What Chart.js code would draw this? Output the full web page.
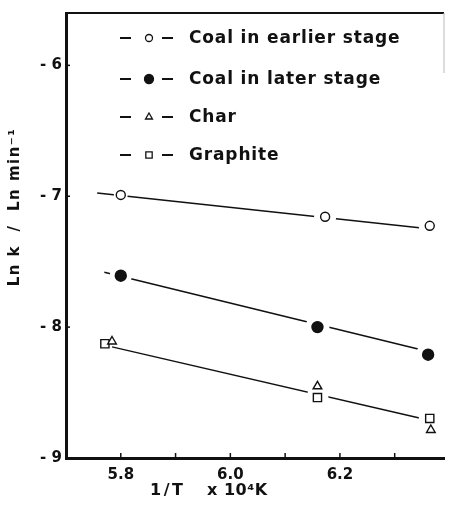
<!DOCTYPE html>
<html>
<head>
<meta charset="utf-8">
<title>Ln k vs 1/T</title>
<script src="https://cdn.jsdelivr.net/npm/chart.js@4.4.1/dist/chart.umd.min.js"></script>
<style>
    html, body { margin: 0; padding: 0; background: #fff; }
    #wrap { width: 456px; height: 509px; }
</style>
</head>
<body>
<div id="wrap"><canvas id="rateChart" width="456" height="509"></canvas></div>
<script>
// ────────────────────────────────────────────────
// Data  (x = 1/T x 10^4 K^-1, y = Ln k)
// ────────────────────────────────────────────────
const SERIES_LABELS = ['Coal in earlier stage', 'Coal in later stage', 'Char', 'Graphite'];

const EARLIER_X  = [5.800, 6.173, 6.364];
const EARLIER_Y  = [-6.990, -7.157, -7.226];
const LATER_X    = [5.800, 6.159, 6.361];
const LATER_Y    = [-7.607, -8.000, -8.211];
const CHAR_X     = [5.784, 6.159, 6.366];
const CHAR_Y     = [-8.110, -8.452, -8.786];
const GRAPHITE_X = [5.771, 6.159, 6.364];
const GRAPHITE_Y = [-8.127, -8.538, -8.698];

// fitted straight lines (end points)
const EARLIER_FIT_X = [5.757, 6.345];
const EARLIER_FIT_Y = [-6.975, -7.241];
const LATER_FIT_X   = [5.770, 6.350];
const LATER_FIT_Y   = [-7.580, -8.175];
const SOLID_FIT_X   = [5.784, 6.345];
const SOLID_FIT_Y   = [-8.151, -8.695];

const X_TICKS       = [5.8, 5.9, 6.0, 6.1, 6.2, 6.3];
const X_TICK_LABELS = ['5.8', '', '6.0', '', '6.2', ''];
const Y_TICKS       = [-9, -8, -7, -6];
const Y_TICK_LABELS = ['- 9', '- 8', '- 7', '- 6'];

const X_TITLE_LEFT  = '1/T';
const X_TITLE_RIGHT = 'x 10⁴K';
const Y_TITLE       = 'Ln k  /  Ln min⁻¹';

// ────────────────────────────────────────────────
// Helpers
// ────────────────────────────────────────────────
const INK  = '#111';
const FONT = '"DejaVu Sans", sans-serif';

function toPoints(xs, ys) {
    return xs.map((x, i) => ({ x, y: ys[i] }));
}

function fitLine(xs, ys) {
    return {
        type: 'line',
        data: toPoints(xs, ys),
        borderColor: INK,
        borderWidth: 1.5,
        pointRadius: 0,
        fill: false,
        order: 3
    };
}

// white disc behind a marker, so the fitted line breaks around it
function halo(xs, ys, radii) {
    return {
        type: 'scatter',
        data: toPoints(xs, ys),
        pointRadius: radii,
        pointBackgroundColor: '#fff',
        pointBorderWidth: 0,
        order: 2
    };
}

function markers(label, xs, ys, style, radius, filled) {
    return {
        type: 'scatter',
        label,
        data: toPoints(xs, ys),
        pointStyle: style,
        pointRadius: radius,
        pointBackgroundColor: filled ? INK : '#fff',
        pointBorderColor: INK,
        pointBorderWidth: 1.4,
        order: 1,
        isSeries: true
    };
}

// ────────────────────────────────────────────────
// Plugins: frame, inward ticks, axis titles, legend
// ────────────────────────────────────────────────
const framePlugin = {
    id: 'frame',
    afterDraw(chart) {
        const { ctx, chartArea: a, scales } = chart;
        ctx.save();
        ctx.strokeStyle = INK;

        // top edge and faint right edge
        ctx.lineWidth = 2;
        ctx.beginPath();
        ctx.moveTo(a.left, a.top);
        ctx.lineTo(a.right, a.top);
        ctx.stroke();
        ctx.strokeStyle = '#bbb';
        ctx.lineWidth = 1;
        ctx.beginPath();
        ctx.moveTo(a.right, a.top);
        ctx.lineTo(a.right, a.top + 60);
        ctx.stroke();

        // short inward tick marks
        ctx.strokeStyle = INK;
        ctx.lineWidth = 1.5;
        scales.x.ticks.forEach(t => {
            const px = scales.x.getPixelForValue(t.value);
            ctx.beginPath();
            ctx.moveTo(px, a.bottom);
            ctx.lineTo(px, a.bottom - 5);
            ctx.stroke();
        });
        scales.y.ticks.forEach(t => {
            const py = scales.y.getPixelForValue(t.value);
            ctx.beginPath();
            ctx.moveTo(a.left, py);
            ctx.lineTo(a.left + 4, py);
            ctx.stroke();
        });
        ctx.restore();
    }
};

const titlesPlugin = {
    id: 'axisTitles',
    afterDraw(chart) {
        const { ctx } = chart;
        ctx.save();
        ctx.fillStyle = INK;
        ctx.font = 'bold 16px ' + FONT;
        ctx.textBaseline = 'middle';
        ctx.textAlign = 'left';
        ctx.letterSpacing = '2.5px';
        ctx.fillText(X_TITLE_LEFT, 150, 491);
        ctx.letterSpacing = '0.5px';
        ctx.fillText(X_TITLE_RIGHT, 207, 491);

        ctx.translate(15, 207);
        ctx.rotate(-Math.PI / 2);
        ctx.textAlign = 'center';
        ctx.font = 'bold 15px ' + FONT;
        ctx.letterSpacing = '1.5px';
        ctx.fillText(Y_TITLE, 0, 0);
        ctx.restore();
    }
};

const legendPlugin = {
    id: 'lineLegend',
    afterDraw(chart) {
        const { ctx } = chart;
        const rows = [38, 79, 117, 155];
        const legendRadius = [3.5, 4.5, 4, 4.5];
        const series = chart.data.datasets.filter(d => d.isSeries);
        ctx.save();
        ctx.font = 'bold 17px ' + FONT;
        ctx.letterSpacing = '0.85px';
        ctx.textBaseline = 'middle';
        ctx.textAlign = 'left';
        series.forEach((ds, i) => {
            const y = rows[i];
            ctx.strokeStyle = INK;
            ctx.lineWidth = 1.8;
            ctx.beginPath();
            ctx.moveTo(120, y); ctx.lineTo(131, y);
            ctx.moveTo(162, y); ctx.lineTo(173, y);
            ctx.stroke();

            ctx.fillStyle = ds.pointBackgroundColor;
            ctx.lineWidth = 1.3;
            Chart.helpers.drawPoint(ctx, {
                pointStyle: ds.pointStyle,
                radius: legendRadius[i],
                rotation: 0,
                borderWidth: 1.3
            }, 149, y);

            ctx.fillStyle = INK;
            ctx.fillText(ds.label, 189, y + 1);
        });
        ctx.restore();
    }
};

// ────────────────────────────────────────────────
// Chart
// ────────────────────────────────────────────────
const tickFont = { family: FONT, size: 15, weight: 'bold' };

new Chart(document.getElementById('rateChart'), {
    data: {
        datasets: [
            fitLine(EARLIER_FIT_X, EARLIER_FIT_Y),
            fitLine(LATER_FIT_X, LATER_FIT_Y),
            fitLine(SOLID_FIT_X, SOLID_FIT_Y),
            halo(EARLIER_X, EARLIER_Y, [7, 11, 11]),
            halo(LATER_X, LATER_Y, [11, 12, 12]),
            halo(CHAR_X, CHAR_Y, [4, 11, 11]),
            halo(GRAPHITE_X, GRAPHITE_Y, [4, 11, 11]),
            markers(SERIES_LABELS[0], EARLIER_X, EARLIER_Y, 'circle', 4.5, false),
            markers(SERIES_LABELS[1], LATER_X, LATER_Y, 'circle', 5.5, true),
            markers(SERIES_LABELS[2], CHAR_X, CHAR_Y, 'triangle', 5, false),
            markers(SERIES_LABELS[3], GRAPHITE_X, GRAPHITE_Y, 'rect', 5.8, false)
        ]
    },
    options: {
        responsive: false,
        animation: false,
        events: [],
        layout: { padding: { top: 12, right: 3, left: 0, bottom: 0 } },
        plugins: {
            legend: { display: false },
            tooltip: { enabled: false }
        },
        scales: {
            x: {
                type: 'linear',
                min: 5.7,
                max: 6.39,
                afterBuildTicks: s => { s.ticks = X_TICKS.map(v => ({ value: v })); },
                afterFit: s => { s.height = 51; },
                grid: { display: false, drawTicks: false },
                border: { width: 3, color: INK },
                ticks: {
                    padding: 8,
                    color: INK,
                    font: tickFont,
                    maxRotation: 0,
                    autoSkip: false,
                    callback: (v, i) => X_TICK_LABELS[i]
                }
            },
            y: {
                type: 'linear',
                min: -9,
                max: -5.6,
                afterBuildTicks: s => { s.ticks = Y_TICKS.map(v => ({ value: v })); },
                afterFit: s => { s.width = 66; },
                grid: { display: false, drawTicks: false },
                border: { width: 3, color: INK },
                ticks: {
                    padding: 4,
                    color: INK,
                    font: tickFont,
                    callback: (v, i) => Y_TICK_LABELS[i]
                }
            }
        }
    },
    plugins: [framePlugin, titlesPlugin, legendPlugin]
});
</script>
</body>
</html>
